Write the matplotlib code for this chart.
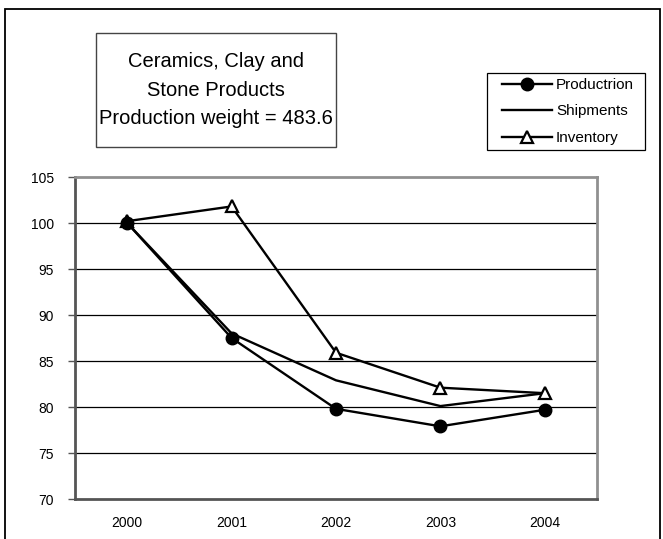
import matplotlib.pyplot as plt
from matplotlib.patches import Rectangle

plt.rcParams['font.family'] = ['Liberation Sans', 'DejaVu Sans']

years = ['2000', '2001', '2002', '2003', '2004']
production = [100.0, 87.5, 79.8, 77.9, 79.7]
shipments = [100.0, 88.0, 82.9, 80.1, 81.5]
inventory = [100.2, 101.8, 85.9, 82.1, 81.5]
yticks = [70, 75, 80, 85, 90, 95, 100, 105]

W, H = 663, 539
fig = plt.figure(figsize=(W / 100, H / 100), dpi=100)

# outer chart border (bottom runs past the image edge)
fig.patches.append(Rectangle((5 / W, -0.05), 655 / W, (H - 9) / H + 0.05,
                             transform=fig.transFigure, fill=False,
                             edgecolor='black', lw=1.3))

# plot area in pixels: x 75..597, y 177..499
ax = fig.add_axes([75 / W, (H - 499) / H, 522 / W, 322 / H])
x = range(len(years))

for v in yticks[1:-1]:
    ax.axhline(v, color='black', lw=0.9, zorder=1)

ax.plot(x, shipments, color='black', lw=1.7, zorder=3, label='Shipments')
ax.plot(x, inventory, color='black', lw=1.7, marker='^', markersize=8,
        markerfacecolor='white', markeredgecolor='black', markeredgewidth=1.6,
        zorder=4, label='Inventory')
ax.plot(x, production, color='black', lw=1.7, marker='o', markersize=9,
        markerfacecolor='black', zorder=5, label='Productrion')

ax.set_xlim(-0.5, 4.5)
ax.set_ylim(70, 105)
ax.set_yticks(yticks)
ax.set_xticks(list(x))
ax.set_xticklabels(years)
ax.tick_params(axis='x', length=0, pad=12, labelsize=10)
ax.tick_params(axis='y', length=5, width=1, color='#555555', pad=10, labelsize=10)

for side in ['left', 'bottom']:
    ax.spines[side].set_color('#555555')
    ax.spines[side].set_linewidth(2)
for side in ['top', 'right']:
    ax.spines[side].set_color('#909090')
    ax.spines[side].set_linewidth(2)

# title box
fig.patches.append(Rectangle((96 / W, (H - 147) / H), 240 / W, 114 / H,
                             transform=fig.transFigure, fill=False,
                             edgecolor='#444444', lw=1.0))
fig.text(216 / W, (H - 90) / H, 'Ceramics, Clay and\nStone Products\nProduction weight = 483.6',
         ha='center', va='center', fontsize=14.5, linespacing=1.65)

# legend box drawn by hand, entries without frame
fig.patches.append(Rectangle((487 / W, (H - 150) / H), 158 / W, 77 / H,
                             transform=fig.transFigure, fill=False,
                             edgecolor='black', lw=0.9))
h, l = ax.get_legend_handles_labels()
order = [2, 0, 1]
leg = fig.legend([h[i] for i in order], [l[i] for i in order],
                 loc='center left', bbox_to_anchor=(502 / W, (H - 111.5) / H),
                 frameon=False, fontsize=11, handlelength=3.27,
                 handletextpad=0.26, borderpad=0, labelspacing=0.82,
                 borderaxespad=0)

fig.savefig('out.png', dpi=100)
